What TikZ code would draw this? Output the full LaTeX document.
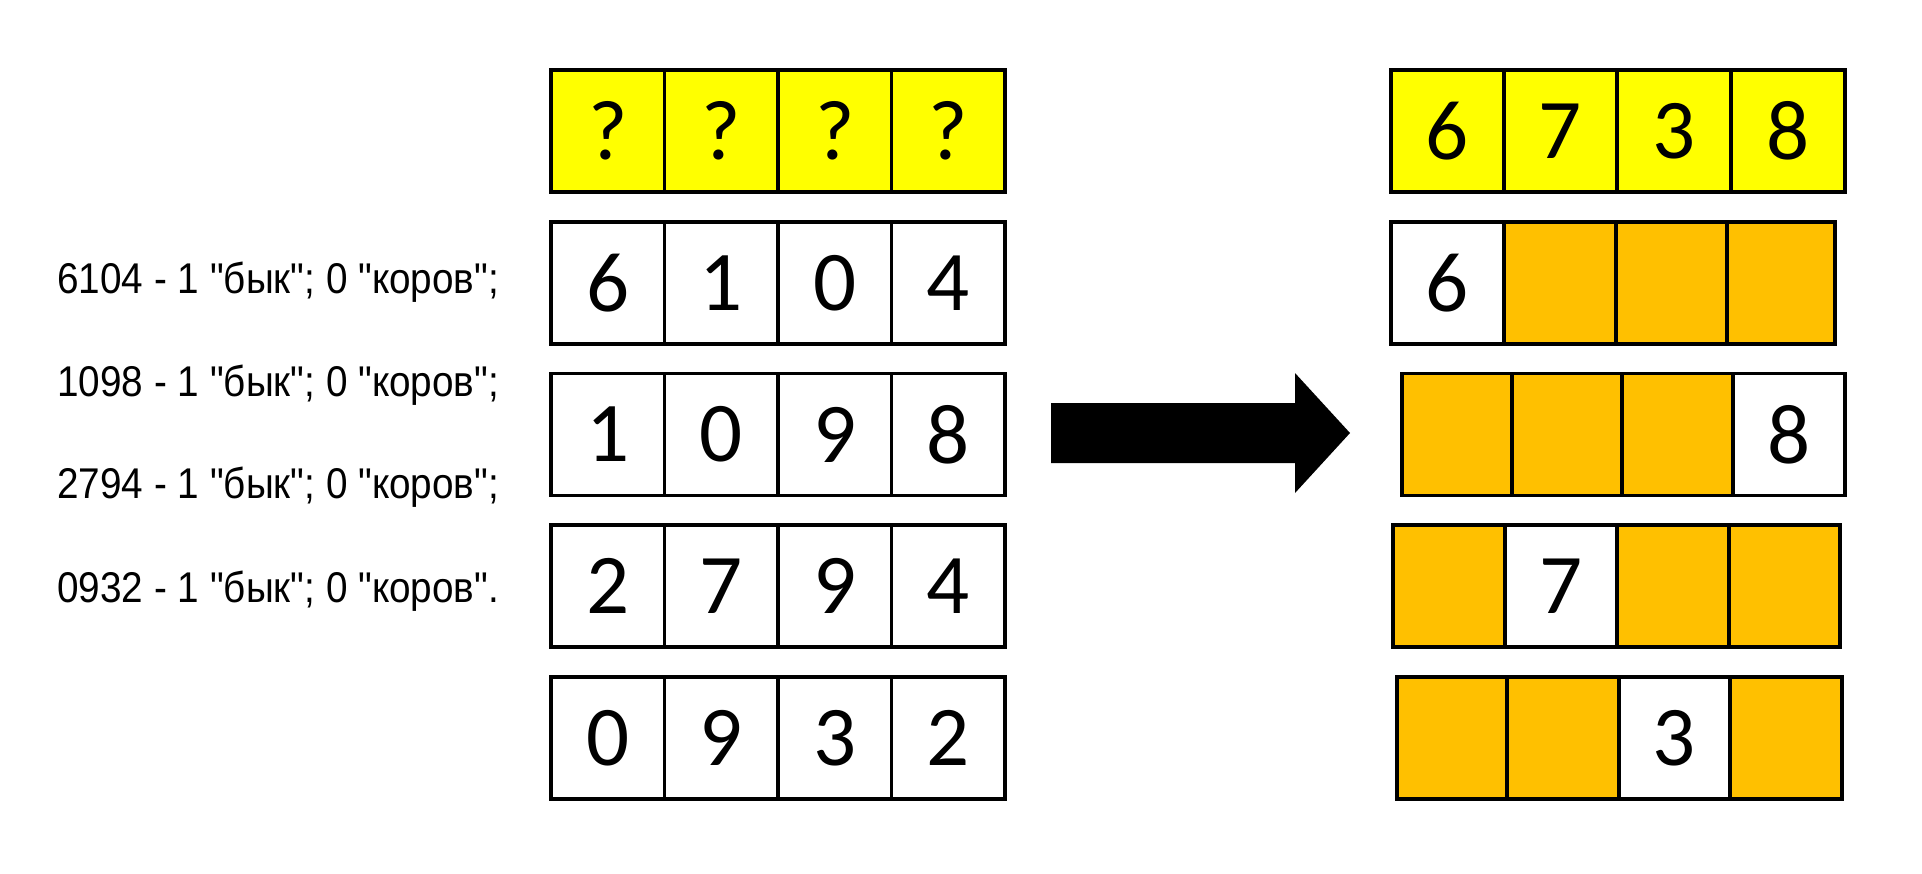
\documentclass[tikz,border=0pt]{standalone}
\usepackage{graphicx}
\usepackage{fontspec}
\setmainfont{Carlito}
\newfontfamily\lblfont{Liberation Sans}
\definecolor{qyel}{HTML}{FFFF00}
\definecolor{qorg}{HTML}{FFC000}
\newcommand{\cellbox}[7]{\node[cellst,fill=#6,minimum width={0.5pt*(#3-#2)},minimum height={0.5pt*(#5-#4)}] (#1) at ({(#2+#3)/2},{(#4+#5)/2}) {#7};}
\newcommand{\narrowtxt}[1]{\scalebox{0.9}[1]{#1}}
\tikzset{
  cellst/.style={draw=black,line width=1.7pt,inner sep=0pt,outer sep=0pt,font=\fontsize{42.5pt}{50pt}\selectfont,text=black},
  lbl/.style={anchor=base west,inner sep=0pt,font=\lblfont\fontsize{21.5pt}{25pt}\selectfont,text=black},
  bigarrow/.style={fill=black,draw=none}
}
\begin{document}
\begin{tikzpicture}[x=0.5pt,y=-0.5pt]
\useasboundingbox (0,0) rectangle (1922,873);
% left column: unknown code and guesses
\cellbox{q1}{551}{664.5}{70}{192}{qyel}{?}
\cellbox{q2}{664.5}{778}{70}{192}{qyel}{?}
\cellbox{q3}{778}{891.5}{70}{192}{qyel}{?}
\cellbox{q4}{891.5}{1005}{70}{192}{qyel}{?}
\cellbox{a1}{551}{664.5}{222}{344}{white}{6}
\cellbox{a2}{664.5}{778}{222}{344}{white}{1}
\cellbox{a3}{778}{891.5}{222}{344}{white}{0}
\cellbox{a4}{891.5}{1005}{222}{344}{white}{4}
\cellbox{b1}{551}{664.5}{373.5}{495.5}{white}{1}
\cellbox{b2}{664.5}{778}{373.5}{495.5}{white}{0}
\cellbox{b3}{778}{891.5}{373.5}{495.5}{white}{9}
\cellbox{b4}{891.5}{1005}{373.5}{495.5}{white}{8}
\cellbox{c1}{551}{664.5}{525}{647}{white}{2}
\cellbox{c2}{664.5}{778}{525}{647}{white}{7}
\cellbox{c3}{778}{891.5}{525}{647}{white}{9}
\cellbox{c4}{891.5}{1005}{525}{647}{white}{4}
\cellbox{d1}{551}{664.5}{677}{799}{white}{0}
\cellbox{d2}{664.5}{778}{677}{799}{white}{9}
\cellbox{d3}{778}{891.5}{677}{799}{white}{3}
\cellbox{d4}{891.5}{1005}{677}{799}{white}{2}
% labels
\node[lbl] (t1) at (57,293) {\narrowtxt{6104 - 1 "бык"; 0 "коров";}};
\node[lbl] (t2) at (57,396) {\narrowtxt{1098 - 1 "бык"; 0 "коров";}};
\node[lbl] (t3) at (57,498) {\narrowtxt{2794 - 1 "бык"; 0 "коров";}};
\node[lbl] (t4) at (57,602) {\narrowtxt{0932 - 1 "бык"; 0 "коров".}};
% arrow
\fill[bigarrow] (1051,403) -- (1295,403) -- (1295,373) -- (1350,433) -- (1295,493) -- (1295,463) -- (1051,463) -- cycle;
% right column: solution
\cellbox{s1}{1391}{1504}{70}{192}{qyel}{6}
\cellbox{s2}{1504}{1617}{70}{192}{qyel}{7}
\cellbox{s3}{1617}{1731}{70}{192}{qyel}{3}
\cellbox{s4}{1731}{1845}{70}{192}{qyel}{8}
\cellbox{e1}{1391}{1504}{222}{344}{white}{6}
\cellbox{e2}{1504}{1616}{222}{344}{qorg}{}
\cellbox{e3}{1616}{1727}{222}{344}{qorg}{}
\cellbox{e4}{1727}{1835}{222}{344}{qorg}{}
\cellbox{f1}{1402}{1512}{373.5}{495.5}{qorg}{}
\cellbox{f2}{1512}{1622}{373.5}{495.5}{qorg}{}
\cellbox{f3}{1622}{1733}{373.5}{495.5}{qorg}{}
\cellbox{f4}{1733}{1845}{373.5}{495.5}{white}{8}
\cellbox{g1}{1393}{1505}{525}{647}{qorg}{}
\cellbox{g2}{1505}{1617}{525}{647}{white}{7}
\cellbox{g3}{1617}{1729}{525}{647}{qorg}{}
\cellbox{g4}{1729}{1840}{525}{647}{qorg}{}
\cellbox{h1}{1397}{1507}{677}{799}{qorg}{}
\cellbox{h2}{1507}{1619}{677}{799}{qorg}{}
\cellbox{h3}{1619}{1730}{677}{799}{white}{3}
\cellbox{h4}{1730}{1842}{677}{799}{qorg}{}
\end{tikzpicture}
\end{document}
